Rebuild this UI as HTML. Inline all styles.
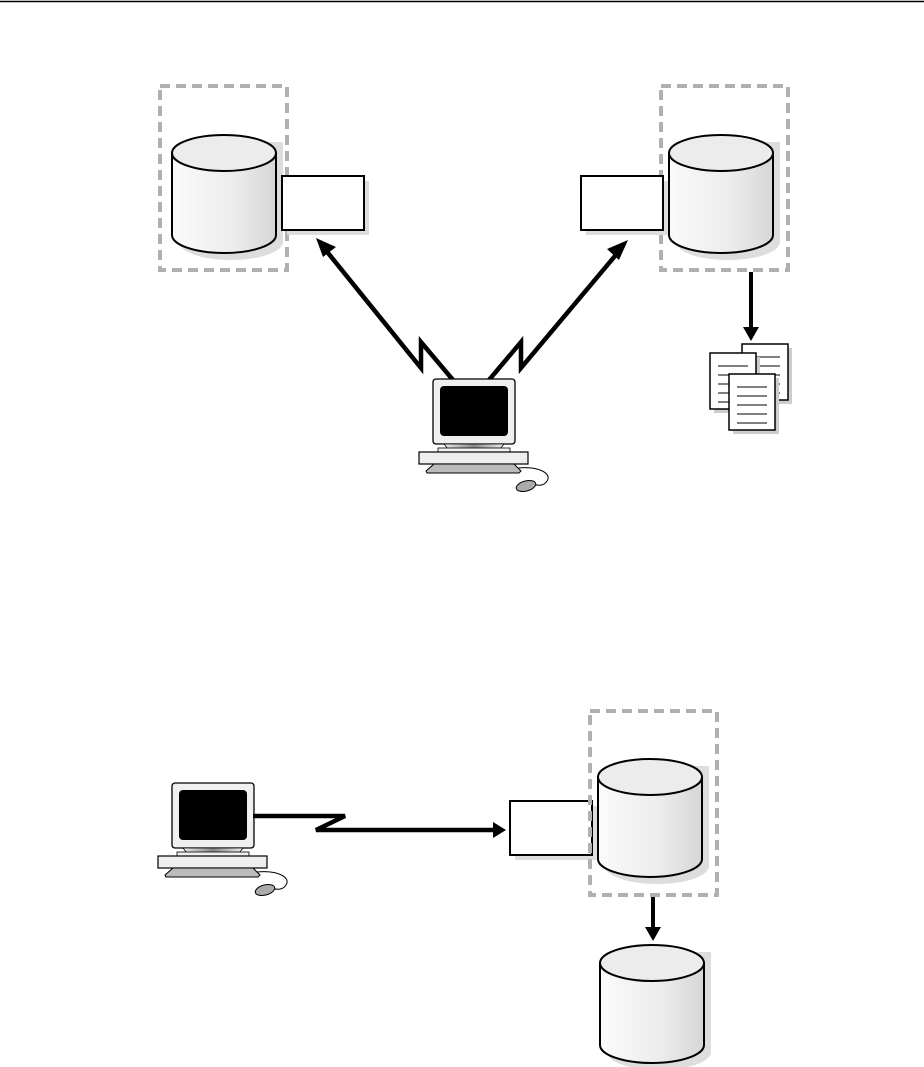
<!DOCTYPE html>
<html><head><meta charset="utf-8"><style>html,body{margin:0;padding:0;background:#fff}svg{display:block}</style></head>
<body>
<svg width="924" height="1067" viewBox="0 0 924 1067" xmlns="http://www.w3.org/2000/svg">
<defs>
<linearGradient id="cg" x1="0" x2="1" y1="0" y2="0">
<stop offset="0" stop-color="#fbfbfb"/><stop offset="0.6" stop-color="#ececec"/><stop offset="1" stop-color="#d6d6d6"/>
</linearGradient>
<linearGradient id="st" x1="0" x2="1"><stop offset="0" stop-color="#eee"/><stop offset="0.5" stop-color="#888"/><stop offset="1" stop-color="#eee"/></linearGradient>
<g id="cyl">
<path d="M4 4 L108 4 L108 104 A52 18 0 0 1 4 104 Z" fill="#ddd" transform="translate(3,3)"/>
<path d="M0 18 L0 100 A52 18 0 0 0 104 100 L104 18 Z" fill="url(#cg)" stroke="#000" stroke-width="2"/>
<ellipse cx="52" cy="18" rx="52" ry="18" fill="#ececec" stroke="#000" stroke-width="2"/>
</g>
<g id="box">
<rect x="5" y="5" width="82" height="54" fill="#ddd"/>
<rect x="0" y="0" width="82" height="54" fill="#fff" stroke="#000" stroke-width="2"/>
</g>
<g id="pc">
<rect x="433" y="379" width="82" height="65" rx="3" fill="#f0f0f0" stroke="#000" stroke-width="1.3"/>
<rect x="440" y="386" width="68" height="50" rx="4" fill="#000"/>
<path d="M444 444 L504 444 L500 449 L448 449 Z" fill="url(#st)" stroke="#000" stroke-width="0.8"/>
<rect x="438" y="448" width="72" height="4" fill="#f0f0f0" stroke="#000" stroke-width="0.8"/>
<rect x="419" y="452" width="109" height="12" fill="#eee" stroke="#000" stroke-width="1.2"/>
<path d="M434 464 L514 464 L521 471 L519 473 L427 473 L426 471 Z" fill="#bbb" stroke="#000" stroke-width="1"/>
<path d="M518 468 C540 466 552 474 547 481 C544 486 538 486 533 484" fill="none" stroke="#000" stroke-width="1"/>
<ellipse cx="526" cy="486" rx="10" ry="5" transform="rotate(-15 526 486)" fill="#aaa" stroke="#000" stroke-width="1"/>
</g>
<g id="doc">
<rect x="4" y="4" width="46" height="56" fill="#ccc"/>
<rect x="0" y="0" width="46" height="56" fill="#fff" stroke="#000" stroke-width="1.5"/>
<path d="M8 13H38M8 22H38M8 31H38M8 40H38M8 49H38" stroke="#000" stroke-width="1"/>
</g>
</defs>

<line x1="0" y1="1.5" x2="924" y2="1.5" stroke="#000" stroke-width="1.5"/>

<rect x="160" y="86" width="127" height="184" fill="none" stroke="#b0b0b0" stroke-width="4" stroke-dasharray="10,6"/>
<use href="#cyl" x="172" y="135"/>
<use href="#box" x="282" y="176"/>
<rect x="661" y="86" width="127" height="184" fill="none" stroke="#b0b0b0" stroke-width="4" stroke-dasharray="10,6"/>
<use href="#cyl" x="669" y="135"/>
<use href="#box" x="581" y="176"/>

<polyline points="453,380 421,342 421,368 324,248" fill="none" stroke="#000" stroke-width="4.5"/>
<polygon points="316,238 336,247 323,257" fill="#000"/>
<polyline points="489,380 521,342 521,368 620,250" fill="none" stroke="#000" stroke-width="4.5"/>
<polygon points="628,240 619,260 607,249" fill="#000"/>

<use href="#pc"/>

<line x1="751" y1="272" x2="751" y2="328" stroke="#000" stroke-width="4"/>
<polygon points="743,327 759,327 751,341" fill="#000"/>
<use href="#doc" x="742" y="344"/>
<use href="#doc" x="710" y="353"/>
<use href="#doc" x="729" y="374"/>

<use href="#pc" transform="translate(-261,404)"/>
<polyline points="253,816 345,816 316,830 494,830" fill="none" stroke="#000" stroke-width="4.5"/>
<polygon points="493,822 506,830 493,838" fill="#000"/>
<use href="#box" x="510" y="801"/>
<rect x="590" y="711" width="127" height="184" fill="none" stroke="#b0b0b0" stroke-width="4" stroke-dasharray="10,6"/>
<use href="#cyl" x="598" y="759"/>
<line x1="653" y1="897" x2="653" y2="928" stroke="#000" stroke-width="4"/>
<polygon points="645,927 661,927 653,941" fill="#000"/>
<use href="#cyl" x="600" y="945"/>
</svg>
</body></html>
